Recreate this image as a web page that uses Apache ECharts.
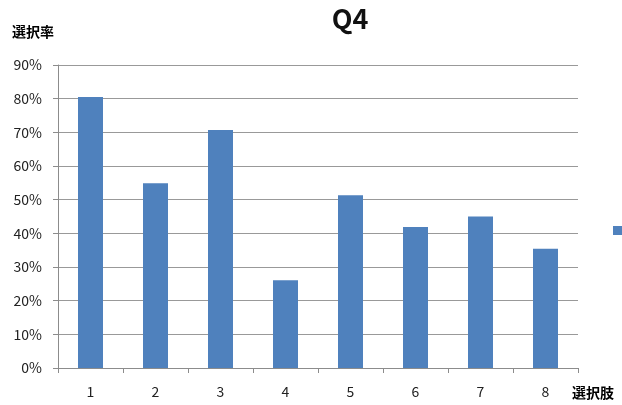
<!DOCTYPE html>
<html>
<head>
<meta charset="utf-8">
<script src="https://cdn.jsdelivr.net/npm/echarts@6/dist/echarts.min.js"></script>
<style>
    html, body { margin: 0; padding: 0; background: #fff; }
    #chart { width: 622px; height: 405px; }
</style>
</head>
<body>
<div id="chart"></div>
<script>
var categories = ['1', '2', '3', '4', '5', '6', '7', '8'];
var rates = [80.5, 54.9, 70.7, 26.1, 51.3, 41.9, 45.0, 35.4];
var yTicks = { min: 0, max: 90, step: 10 };

var dom = document.getElementById('chart');
var myChart = echarts.init(dom);
var option = {
    animation: false,
    textStyle: { fontFamily: '"Noto Sans CJK JP", "Noto Sans", sans-serif' },
    title: {
        text: 'Q4',
        left: 345,
        top: 0,
        textAlign: 'center',
        textStyle: { fontSize: 27, fontWeight: 'bold', color: '#111' }
    },
    legend: {
        data: ['系列1'],
        left: 608,
        top: 221,
        itemWidth: 9,
        itemHeight: 9,
        icon: 'rect',
        formatter: function () { return ''; }
    },
    grid: {
        left: 58,
        right: 44,
        top: 65,
        bottom: 37
    },
    xAxis: {
        type: 'category',
        data: categories,
        name: '選択肢',
        nameLocation: 'end',
        nameGap: 0,
        nameTextStyle: {
            fontSize: 14, fontWeight: 'bold', color: '#000',
            verticalAlign: 'top', align: 'left',
            padding: [18, 0, 0, -6]
        },
        axisLine: { lineStyle: { color: '#8c8c8c', width: 1 } },
        axisTick: { show: true, alignWithLabel: false, length: 5, lineStyle: { color: '#8c8c8c' } },
        axisLabel: { fontSize: 14, color: '#222', margin: 17 }
    },
    yAxis: {
        type: 'value',
        min: yTicks.min,
        max: yTicks.max,
        interval: yTicks.step,
        name: '選択率',
        nameLocation: 'end',
        nameGap: 26,
        nameTextStyle: {
            fontSize: 14, fontWeight: 'bold', color: '#000',
            align: 'left', padding: [0, 0, 0, -46]
        },
        axisLine: { show: true, lineStyle: { color: '#8c8c8c', width: 1 } },
        axisTick: { show: true, length: 5, lineStyle: { color: '#8c8c8c' } },
        axisLabel: { fontSize: 14, color: '#222', margin: 16, formatter: '{value}%' },
        splitLine: { lineStyle: { color: '#999', width: 1 } }
    },
    series: [
        {
            name: '系列1',
            type: 'bar',
            data: rates,
            barWidth: 25,
            itemStyle: { color: '#4f81bd' }
        }
    ]
};
myChart.setOption(option, true);
</script>
</body>
</html>
